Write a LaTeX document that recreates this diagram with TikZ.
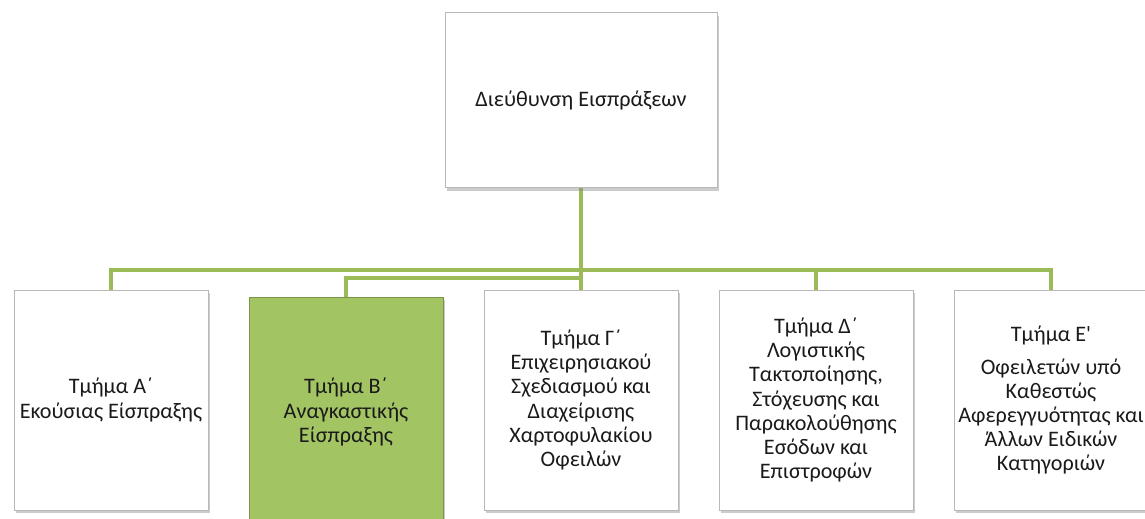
\documentclass[tikz,border=0pt]{standalone}
\usepackage{fontspec}
\setmainfont{Carlito}
\usepackage{xcolor}
\usetikzlibrary{positioning,shadows,backgrounds}
\definecolor{ink}{HTML}{1A1A1A}
\definecolor{branch}{HTML}{9BBB59}
\definecolor{leaf}{HTML}{A3C463}
\definecolor{rim}{HTML}{B8B8B8}
\newlength{\unitlen}\setlength{\unitlen}{0.02cm}

\tikzset{
  unit/.style={draw=rim,fill=white,line width=.5pt,text=ink,align=center,
    minimum width=194\unitlen,minimum height=220\unitlen,inner sep=2pt,
    font=\fontsize{12.6}{13.7}\selectfont,
    drop shadow={opacity=.4,shadow xshift=1.2pt,shadow yshift=-1.8pt}},
  head/.style={unit,minimum width=272\unitlen,minimum height=175\unitlen},
  active/.style={unit,fill=leaf,draw=branch!80!black,minimum height=230\unitlen},
  link/.style={draw=branch,line width=2.4pt}
}

\begin{document}
\begin{tikzpicture}[x=0.02cm,y=0.02cm]
\useasboundingbox (0,0) rectangle (1145,518);
% director and the five sections
\node[head] (dir) at (581,418) {Διεύθυνση Εισπράξεων};
\node[unit] (a) at (111,118) {Τμήμα Α΄\\Εκούσιας Είσπραξης};
\node[active] (b) at (346,106) {Τμήμα Β΄\\Αναγκαστικής\\Είσπραξης};
\node[unit] (c) at (581,118) {Τμήμα Γ΄\\Επιχειρησιακού\\Σχεδιασμού και\\Διαχείρισης\\Χαρτοφυλακίου\\Οφειλών};
\node[unit] (d) at (816,118) {Τμήμα Δ΄\\Λογιστικής\\Τακτοποίησης,\\Στόχευσης και\\Παρακολούθησης\\Εσόδων και\\Επιστροφών};
\node[unit] (e) at (1051,118) {Τμήμα Ε\textquotesingle\\[5pt]Οφειλετών υπό\\Καθεστώς\\Αφερεγγυότητας και\\Άλλων Ειδικών\\Κατηγοριών};
% connectors behind the boxes
\coordinate (bus) at (0,248);
\coordinate (bbus) at (0,240);
\begin{scope}[on background layer]
\draw[link] (dir.south) -- (c.north);
\draw[link] (a.north) -- (a.north |- bus) -- (e.north |- bus) -- (e.north);
\draw[link] (d.north) -- (d.north |- bus);
\draw[link] (b.north) -- (b.north |- bbus) -- (c.north |- bbus);
\end{scope}
\end{tikzpicture}
\end{document}
